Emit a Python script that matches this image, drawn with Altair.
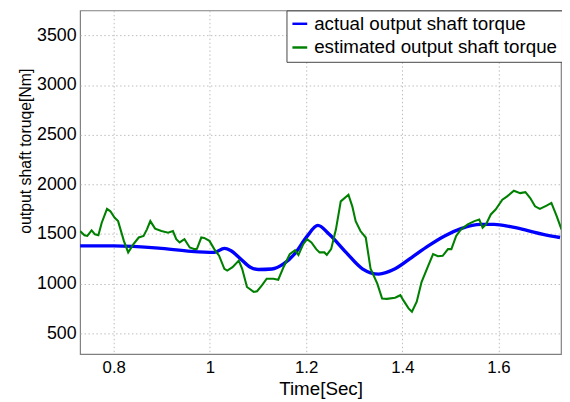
import altair as alt
import pandas as pd

# ---- data ----
actual_time = [0.730, 0.800, 0.893, 0.961, 1.009, 1.030, 1.043, 1.064, 1.084, 1.101,
               1.129, 1.153, 1.177, 1.201, 1.2245, 1.248, 1.283, 1.317, 1.351, 1.385,
               1.420, 1.454, 1.488, 1.522, 1.563, 1.591, 1.625, 1.659, 1.693, 1.728]
actual_torque = [1381, 1381, 1358, 1325, 1315, 1356, 1335, 1249, 1166, 1143,
                 1148, 1199, 1305, 1471, 1587, 1497, 1315, 1150, 1097, 1150,
                 1266, 1381, 1481, 1554, 1597, 1597, 1574, 1537, 1497, 1465]

est_time = [0.730, 0.739, 0.745, 0.754, 0.761, 0.768, 0.775, 0.786, 0.793, 0.802, 0.809,
            0.821, 0.830, 0.841, 0.852, 0.862, 0.869, 0.876, 0.886,
            0.899, 0.913, 0.923, 0.930, 0.937, 0.947, 0.958, 0.968, 0.973, 0.982, 0.988, 0.999,
            1.009, 1.019, 1.030, 1.036, 1.047, 1.060, 1.067, 1.077, 1.091, 1.098,
            1.108, 1.118, 1.132, 1.142, 1.153, 1.166, 1.177, 1.184, 1.194, 1.202,
            1.211, 1.221, 1.228, 1.238, 1.243, 1.252, 1.262, 1.272, 1.288, 1.296,
            1.303, 1.313, 1.324, 1.334, 1.348, 1.358, 1.368, 1.385, 1.396, 1.402,
            1.413, 1.420, 1.430, 1.440, 1.454, 1.464, 1.474, 1.484, 1.495, 1.502,
            1.512, 1.522, 1.536, 1.550, 1.560, 1.567, 1.574, 1.584, 1.594, 1.608,
            1.618, 1.632, 1.645, 1.656, 1.666, 1.676, 1.686, 1.700, 1.710, 1.721, 1.731]
est_torque = [1530, 1488, 1481, 1537, 1497, 1488, 1614, 1753, 1729, 1664, 1630,
              1431, 1315, 1398, 1465, 1481, 1547, 1630, 1554,
              1530, 1514, 1530, 1448, 1415, 1448, 1365, 1348, 1351, 1465, 1461, 1431,
              1348, 1282, 1150, 1132, 1166, 1232, 1150, 967, 917, 924,
              983, 1050, 1050, 1040, 1166, 1298, 1338, 1289, 1398, 1448,
              1415, 1348, 1315, 1315, 1290, 1348, 1547, 1829, 1896, 1779,
              1630, 1530, 1465, 1150, 1000, 851, 847, 858, 884, 834,
              751, 718, 818, 1017, 1182, 1298, 1276, 1281, 1348, 1348,
              1481, 1547, 1597, 1630, 1647, 1564, 1597, 1697, 1746, 1846,
              1879, 1936, 1912, 1922, 1863, 1779, 1753, 1786, 1813, 1680, 1547]

series_names = ["actual output shaft torque", "estimated output shaft torque"]
series_colors = ["#0000ff", "#008000"]
x_ticks = [0.8, 1.0, 1.2, 1.4, 1.6]
y_ticks = [500, 1000, 1500, 2000, 2500, 3000, 3500]

df_actual = pd.DataFrame({"t": actual_time, "v": actual_torque, "s": series_names[0]})
df_est = pd.DataFrame({"t": est_time, "v": est_torque, "s": series_names[1]})

FONT = "Liberation Sans, Arial, sans-serif"

x_enc = alt.X("t:Q", scale=alt.Scale(domain=[0.73, 1.73], nice=False, zero=False),
              axis=alt.Axis(values=x_ticks, format="~g", title="Time[Sec]",
                            titleX=243.5, titleY=41, titleBaseline="alphabetic",
                            titleFontSize=19, labelFontSize=17, labelPadding=6,
                            labelBaseline="top"))
y_enc = alt.Y("v:Q", scale=alt.Scale(domain=[291, 3751], nice=False, zero=False),
              axis=alt.Axis(values=y_ticks, format="d", title="output shaft toruqe[Nm]",
                            titleX=-55, titleY=142, titleAngle=270,
                            titleBaseline="middle", titleAlign="center",
                            titleFontSize=16, labelFontSize=18, labelPadding=4))
color_enc = alt.Color("s:N", scale=alt.Scale(domain=series_names, range=series_colors),
                      legend=alt.Legend(orient="none", legendX=209, legendY=0,
                                        direction="vertical", title=None,
                                        fillColor="white", strokeColor="#444444",
                                        padding=4, rowPadding=4, symbolType="stroke",
                                        symbolSize=225, symbolStrokeWidth=2.5,
                                        labelFontSize=19, labelOffset=5, labelLimit=400,
                                        labelFont=FONT, labelColor="black"))

blue = alt.Chart(df_actual).mark_line(strokeWidth=3.4, interpolate="monotone", clip=True).encode(
    x=x_enc, y=y_enc, color=color_enc)
green = alt.Chart(df_est).mark_line(strokeWidth=2.1, clip=True).encode(
    x=x_enc, y=y_enc, color=color_enc)

chart = alt.layer(blue, green).properties(
    width=487, height=348,
    padding={"left": 73, "top": 0, "right": 1, "bottom": 46},
    autosize=alt.AutoSizeParams(type="none"),
).configure_view(
    stroke="#808080", strokeWidth=1.2
).configure_axis(
    domain=False, ticks=False, grid=True, gridColor="#bdbdbd", gridDash=[1.5, 2.5],
    gridWidth=1, labelFont=FONT, titleFont=FONT, labelColor="black", titleColor="black",
    titleFontWeight="normal"
)

chart.save("out.html", embed_options={"renderer": "svg", "actions": False})
